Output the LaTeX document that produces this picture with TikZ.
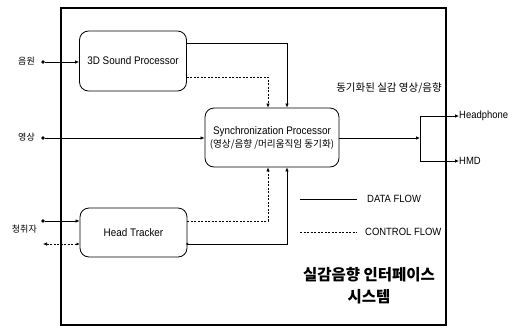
\documentclass[tikz,border=0pt]{standalone}
\usepackage{fontspec}
\setmainfont{Liberation Sans}[FakeStretch=0.9]
\newfontfamily\kr{Noto Sans CJK KR}
\usetikzlibrary{arrows.meta}
\begin{document}
\begin{tikzpicture}[x=1pt,y=-1pt,
  box/.style={draw, line width=0.8pt, rounded corners=9pt, inner sep=0pt, font=\fontsize{11}{12}\selectfont},
  data/.style={line width=0.7pt},
  ctrl/.style={line width=0.6pt, dash pattern=on 2pt off 1.5pt},
  tip/.style={-{Latex[length=4pt,width=3.5pt]}},
  dot/.style={circle, fill, inner sep=0pt, minimum size=3.6pt},
  lbl/.style={font=\kr\fontsize{9}{10}\selectfont, inner sep=0pt},
  en/.style={font=\fontsize{10.5}{12}\selectfont, inner sep=0pt}]
\useasboundingbox (0,0) rectangle (514,327);
\node[draw, line width=1.6pt, minimum width=385pt, minimum height=317pt, inner sep=0pt] (frame) at (253.5,166.5) {};
% processors
\node[box, minimum width=107pt, minimum height=60pt] (snd) at (133,61) {3D Sound Processor};
\node[box, minimum width=134pt, minimum height=59pt, align=center] (sync) at (272,137.5)
  {Synchronization Processor\\[1pt]{\kr\fontsize{9.6}{10}\selectfont (영상/음향 /머리움직임 동기화)}};
\node[box, minimum width=107pt, minimum height=49pt] (ht) at (133.5,232.5) {Head Tracker};
% inputs
\node[dot] (d1) at (43,62) {};
\node[lbl, anchor=east] (l1) at (35,61) {음원};
\draw[data,tip] (d1) -- (d1 -| snd.west);
\node[dot] (d2) at (43,138) {};
\node[lbl, anchor=east] (l2) at (35,137) {영상};
\draw[data,tip] (d2) -- (d2 -| sync.west);
\node[lbl, anchor=east] (l3) at (37,229) {청취자};
\node[dot] (d3) at (43,221) {};
\draw[data,tip] (d3) -- (d3 -| ht.west);
\coordinate (d4) at (43,244);
\draw[ctrl,{Latex[length=4pt,width=3.5pt]}-{Latex[length=3pt,width=3pt]}] (d4) -- (d4 -| ht.west);
% 3D sound -> sync
\coordinate (c1) at (287,43);
\draw[data,tip] (snd.east |- c1) -- (c1) -- (c1 |- sync.north);
\coordinate (c2) at (268,77);
\draw[ctrl,tip] (snd.east |- c2) -- (c2) -- (c2 |- sync.north);
% head tracker -> sync
\coordinate (c3) at (268,221);
\draw[ctrl,tip] (ht.east |- c3) -- (c3) -- (c3 |- sync.south);
\coordinate (c4) at (287,244);
\fill (ht.east |- c4) circle (1.3pt);
\draw[data,tip] (ht.east |- c4) -- (c4) -- (c4 |- sync.south);
% output
\coordinate (j) at (420,138);
\draw[data,tip] (sync.east |- j) -- (j);
\coordinate (jt) at (420,116);
\coordinate (jb) at (420,161);
\draw[data] (jt) -- (jb);
\node[en, anchor=west] (hp) at (459,116) {Headphone};
\node[en, anchor=west] (hmd) at (459,161) {HMD};
\draw[data,tip] (jt) -- (hp.west);
\draw[data,tip] (jb) -- (hmd.west);
\node[lbl, font=\kr\fontsize{10.5}{11}\selectfont] (sl) at (389,88) {동기화된 실감 영상/음향};
% legend
\coordinate (ls1) at (300,199);
\coordinate (le1) at (357,199);
\draw[data] (ls1) -- (le1);
\node[en, anchor=west] (lg1) at (367,199) {DATA FLOW};
\coordinate (ls2) at (300,232);
\coordinate (le2) at (357,232);
\draw[ctrl] (ls2) -- (le2);
\node[en, anchor=west] (lg2) at (365,232) {CONTROL FLOW};
% title
\node[font=\kr\bfseries\fontsize{15.5}{22}\selectfont, align=center] (title) at (369,286) {실감음향 인터페이스\\시스템};
\end{tikzpicture}
\end{document}
